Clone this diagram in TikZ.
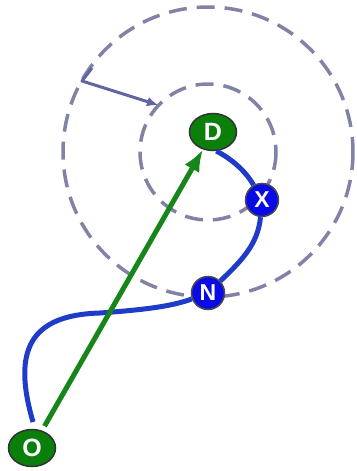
\documentclass[tikz,border=0pt]{standalone}
\usepackage{fontspec}
\setmainfont{Liberation Sans}
\usetikzlibrary{shapes.geometric,arrows.meta}
\definecolor{ringc}{HTML}{8282A6}
\definecolor{radc}{HTML}{6464A0}
\definecolor{pathc}{HTML}{1E3CC8}
\definecolor{arrowc}{HTML}{16861A}
\definecolor{gnode}{HTML}{0A800A}
\definecolor{bnode}{HTML}{0A0AE6}
\tikzset{
  ring/.style={draw=ringc, line width=3.5pt, dash pattern=on 18pt off 10pt},
  gnodestyle/.style={ellipse, draw=black!80, line width=1.5pt, fill=gnode, minimum width=47pt, minimum height=37pt, inner sep=0pt, text=white, font=\fontsize{25}{25}\selectfont\bfseries},
  bnodestyle/.style={circle, draw=black!70, line width=1.5pt, fill=bnode, minimum size=33pt, inner sep=0pt, text=white, font=\fontsize{23}{23}\selectfont\bfseries},
  bluepath/.style={draw=pathc, line width=5pt},
  greenarrow/.style={draw=arrowc, line width=5pt, -{Latex[length=22pt,width=17pt]}},
  radline/.style={draw=radc, line width=3pt}
}
\begin{document}
\begin{tikzpicture}[x=1pt,y=-1pt]
\useasboundingbox (0,0) rectangle (356,471);
\coordinate (C) at (208,152);
\draw[ring] (C) circle[radius=145];
\draw[ring] (C) circle[radius=68];
\coordinate (tk) at (92,68);
\coordinate (rs) at (82,81);
\coordinate (re) at (158,105);
\draw[radline, line join=round, -{Latex[length=11pt,width=10pt]}] (tk) -- (rs) -- (re);
\node[gnodestyle] (D) at (213,132) {D};
\node[bnodestyle] (X) at (262,200) {X};
\node[bnodestyle] (N) at (208,293) {N};
\node[gnodestyle] (O) at (32,448) {O};
\coordinate (m) at (100,313);
\draw[bluepath] (33,422) .. controls (12,350) and (30,315) .. (m)
   .. controls (140,310) and (170,307) .. (N);
\draw[bluepath] (N) .. controls (240,262) and (258,245) .. (X);
\draw[bluepath] (X) .. controls (245,170) and (230,158) .. (D.-80);
\draw[greenarrow, shorten <=5pt] (O) -- (D);
\end{tikzpicture}
\end{document}
